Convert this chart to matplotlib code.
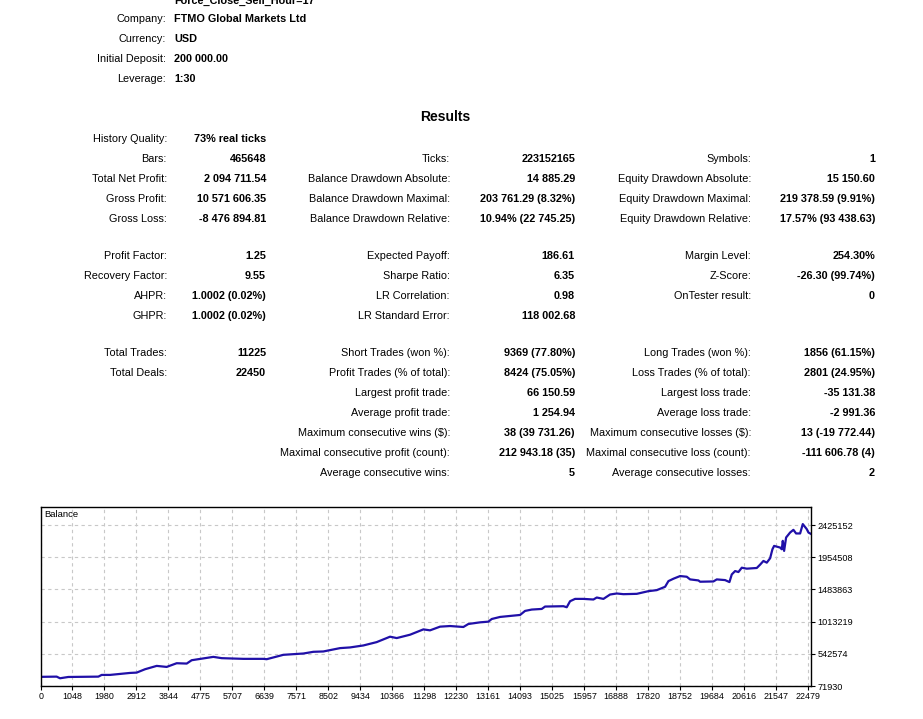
import matplotlib
matplotlib.use("Agg")
import matplotlib.pyplot as plt

plt.rcParams['font.family'] = ['Liberation Sans', 'DejaVu Sans']

# header block
header_labels = ["Company:", "Currency:", "Initial Deposit:", "Leverage:"]
header_values = ["FTMO Global Markets Ltd", "USD", "200 000.00", "1:30"]
cut_line = "Force_Close_Sell_Hour=17"

# results table, one list per column
col1_labels = ["History Quality:", "Bars:", "Total Net Profit:", "Gross Profit:", "Gross Loss:",
               "Profit Factor:", "Recovery Factor:", "AHPR:", "GHPR:",
               "Total Trades:", "Total Deals:"]
col1_values = ["73% real ticks", "465648", "2 094 711.54", "10 571 606.35", "-8 476 894.81",
               "1.25", "9.55", "1.0002 (0.02%)", "1.0002 (0.02%)",
               "11225", "22450"]
col2_labels = ["Ticks:", "Balance Drawdown Absolute:", "Balance Drawdown Maximal:", "Balance Drawdown Relative:",
               "Expected Payoff:", "Sharpe Ratio:", "LR Correlation:", "LR Standard Error:",
               "Short Trades (won %):", "Profit Trades (% of total):", "Largest profit trade:",
               "Average profit trade:", "Maximum consecutive wins ($):",
               "Maximal consecutive profit (count):", "Average consecutive wins:"]
col2_values = ["223152165", "14 885.29", "203 761.29 (8.32%)", "10.94% (22 745.25)",
               "186.61", "6.35", "0.98", "118 002.68",
               "9369 (77.80%)", "8424 (75.05%)", "66 150.59", "1 254.94", "38 (39 731.26)",
               "212 943.18 (35)", "5"]
col3_labels = ["Symbols:", "Equity Drawdown Absolute:", "Equity Drawdown Maximal:", "Equity Drawdown Relative:",
               "Margin Level:", "Z-Score:", "OnTester result:",
               "Long Trades (won %):", "Loss Trades (% of total):", "Largest loss trade:",
               "Average loss trade:", "Maximum consecutive losses ($):",
               "Maximal consecutive loss (count):", "Average consecutive losses:"]
col3_values = ["1", "15 150.60", "219 378.59 (9.91%)", "17.57% (93 438.63)",
               "254.30%", "-26.30 (99.74%)", "0",
               "1856 (61.15%)", "2801 (24.95%)", "-35 131.38", "-2 991.36", "13 (-19 772.44)",
               "-111 606.78 (4)", "2"]

# balance curve (trade number, balance)
trades = [0, 593, 690, 933, 1807, 1904, 2146, 2729, 2923, 3166, 3506, 3797, 4088, 4380, 4525,
          5156, 5399, 6030, 6612, 6710, 7195, 7777, 8068, 8360, 8845, 9137, 9525, 9913, 10301,
          10496, 10884, 11272, 11466, 11758, 12049, 12437, 12583, 12923, 13165, 13263, 13505,
          14088, 14233, 14428, 14719, 14816, 15350, 15447, 15544, 15690, 15932, 16224, 16321,
          16515, 16709, 16903, 17097, 17486, 17826, 18068, 18311, 18408, 18554, 18748, 18942,
          19039, 19282, 19330, 19718, 19816, 20058, 20185, 20253, 20350, 20447, 20544, 20690,
          20981, 21078, 21175, 21272, 21369, 21437, 21486, 21660, 21709, 21738, 21777, 21835,
          21952, 22048, 22126, 22243, 22321, 22437, 22485, 22563]
balance = [205000, 209000, 185000, 204000, 209000, 234000, 234000, 263000, 268000, 317000,
           366000, 351000, 405000, 400000, 449000, 498000, 479000, 469000, 469000, 464000,
           528000, 547000, 572000, 577000, 626000, 636000, 665000, 714000, 793000, 773000,
           822000, 900000, 886000, 940000, 949000, 935000, 979000, 1003000, 1013000, 1052000,
           1082000, 1111000, 1170000, 1190000, 1199000, 1234000, 1239000, 1224000, 1312000,
           1346000, 1346000, 1337000, 1366000, 1346000, 1410000, 1425000, 1415000, 1420000,
           1459000, 1474000, 1523000, 1606000, 1641000, 1680000, 1670000, 1631000, 1616000,
           1597000, 1601000, 1631000, 1621000, 1592000, 1704000, 1753000, 1739000, 1802000,
           1788000, 1798000, 1847000, 1901000, 1876000, 1940000, 2072000, 2121000, 2097000,
           2072000, 2195000, 2048000, 2244000, 2317000, 2356000, 2303000, 2303000, 2440000,
           2366000, 2317000, 2295000]

x_ticks = [0, 1048, 1980, 2912, 3844, 4775, 5707, 6639, 7571, 8502, 9434, 10366, 11298,
           12230, 13161, 14093, 15025, 15957, 16888, 17820, 18752, 19684, 20616, 21547, 22479]
y_ticks = [71930, 542574, 1013219, 1483863, 1954508, 2425152]

W, H = 923, 719
fig = plt.figure(figsize=(W / 100, H / 100), dpi=100)
fig.patch.set_facecolor("white")

# text layer in pixel coordinates
tax = fig.add_axes([0, 0, 1, 1])
tax.set_xlim(0, W)
tax.set_ylim(H, 0)
tax.axis("off")

fs = 7.8
# first header line is cut off by the top edge, as in the report screenshot
tax.text(174, 4, cut_line, ha="left", va="baseline", fontsize=fs, fontweight="bold")
for i in range(len(header_labels)):
    y = 19 + 20 * i
    tax.text(166, y, header_labels[i], ha="right", va="center", fontsize=fs)
    tax.text(174, y, header_values[i], ha="left", va="center", fontsize=fs, fontweight="bold")

tax.text(445, 117, "Results", ha="center", va="center", fontsize=10, fontweight="bold")

rows1 = [139, 159, 179, 199, 219, 256, 276, 296, 316, 353, 373]
rows2 = [159, 179, 199, 219, 256, 276, 296, 316, 353, 373, 393, 413, 433, 453, 473]
rows3 = [159, 179, 199, 219, 256, 276, 296, 353, 373, 393, 413, 433, 453, 473]
for labels, values, rows, lx, vx in [(col1_labels, col1_values, rows1, 167, 266),
                                     (col2_labels, col2_values, rows2, 450, 575),
                                     (col3_labels, col3_values, rows3, 751, 875)]:
    for lab, val, y in zip(labels, values, rows):
        tax.text(lx, y, lab, ha="right", va="center", fontsize=fs)
        tax.text(vx, y, val, ha="right", va="center", fontsize=fs, fontweight="bold")

# balance chart
left, right, top, bottom = 41, 811, 507, 686
ax = fig.add_axes([left / W, 1 - bottom / H, (right - left) / W, (bottom - top) / H])
xmin, xmax = 137, 22560
ax.set_xlim(xmin, xmax)
ax.set_ylim(71930, 2690000)
ax.plot(trades, balance, color="#2010a8", lw=1.6)

tick_pos = [xmin] + x_ticks[1:]
ax.set_xticks(tick_pos)
ax.set_xticklabels([str(v) for v in x_ticks], fontsize=6.4)
ax.set_yticks(y_ticks)
ax.set_yticklabels([str(v) for v in y_ticks], fontsize=6.6)
ax.yaxis.tick_right()
ax.tick_params(axis="both", length=3, width=0.8, pad=1.5, color="black")
ax.grid(True, color="#c8c8c8", linestyle=(0, (3, 3)), lw=0.8)
for s in ax.spines.values():
    s.set_linewidth(1)
    s.set_color("black")
ax.text(0.004, 0.985, "Balance", transform=ax.transAxes, ha="left", va="top", fontsize=6.8)

fig.savefig("out.png", dpi=100)
